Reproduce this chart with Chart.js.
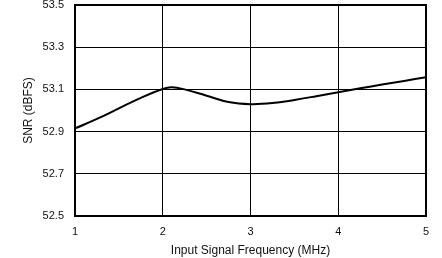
<!DOCTYPE html>
<html><head><meta charset="utf-8">
<script src="https://cdn.jsdelivr.net/npm/chart.js@4/dist/chart.umd.min.js"></script>
<style>html,body{margin:0;padding:0;background:#fff}#wrap{width:442px;height:258px}</style>
</head><body><div id="wrap"><canvas id="c" width="442" height="258"></canvas></div>
<script>
const freqMHz = [1.0, 1.25, 1.5, 1.75, 2.0, 2.1, 2.25, 2.5, 2.75, 3.0, 3.25, 3.5, 3.75, 4.0, 4.25, 4.5, 4.75, 5.0];
const snrDBFS = [52.915, 52.96, 53.01, 53.06, 53.102, 53.11, 53.10, 53.07, 53.04, 53.03, 53.035, 53.05, 53.068, 53.087, 53.105, 53.123, 53.14, 53.158];
const yTicks = [52.5, 52.7, 52.9, 53.1, 53.3, 53.5];
const xTicks = [1, 2, 3, 4, 5];

const frame = {
  id: 'frame',
  afterDatasetsDraw(chart) {
    const a = chart.chartArea, ctx = chart.ctx;
    ctx.save();
    ctx.strokeStyle = '#000';
    ctx.lineWidth = 2;
    ctx.strokeRect(a.left, a.top, a.right - a.left, a.bottom - a.top);
    ctx.restore();
  }
};

const font = {family: 'Liberation Sans, Arial, sans-serif', size: 11};
const titleFont = {family: 'Liberation Sans, Arial, sans-serif', size: 12};
new Chart(document.getElementById('c'), {
  type: 'line',
  data: {datasets: [{
    data: freqMHz.map((x, i) => ({x, y: snrDBFS[i]})),
    borderColor: '#000', borderWidth: 2, pointRadius: 0, tension: 0.4, fill: false
  }]},
  options: {
    responsive: false, animation: false,
    layout: {padding: {top: 5, right: 16, left: 0, bottom: 0}},
    plugins: {legend: {display: false}, tooltip: {enabled: false}},
    scales: {
      x: {
        type: 'linear', min: 1, max: 5,
        afterBuildTicks: s => { s.ticks = xTicks.map(v => ({value: v})); },
        afterFit: s => { s.height = 42; s.paddingLeft = 0; s.paddingRight = 0; },
        grid: {color: '#000', lineWidth: 1, drawTicks: false},
        border: {display: false},
        ticks: {color: '#111', font, padding: 9, maxRotation: 0},
        title: {display: true, text: 'Input Signal Frequency (MHz)', color: '#111', font: titleFont, padding: {top: 2, bottom: 0}}
      },
      y: {
        min: 52.5, max: 53.5,
        afterBuildTicks: s => { s.ticks = yTicks.map(v => ({value: v})); },
        afterFit: s => { s.width = 75; s.paddingTop = 0; s.paddingBottom = 0; },
        grid: {color: '#000', lineWidth: 1, drawTicks: false},
        border: {display: false},
        ticks: {color: '#111', font, padding: 11, callback: v => v.toFixed(1)},
        title: {display: true, text: 'SNR (dBFS)', color: '#111', font: titleFont, padding: {top: 21, bottom: 0}}
      }
    }
  },
  plugins: [frame]
});
</script></body></html>
